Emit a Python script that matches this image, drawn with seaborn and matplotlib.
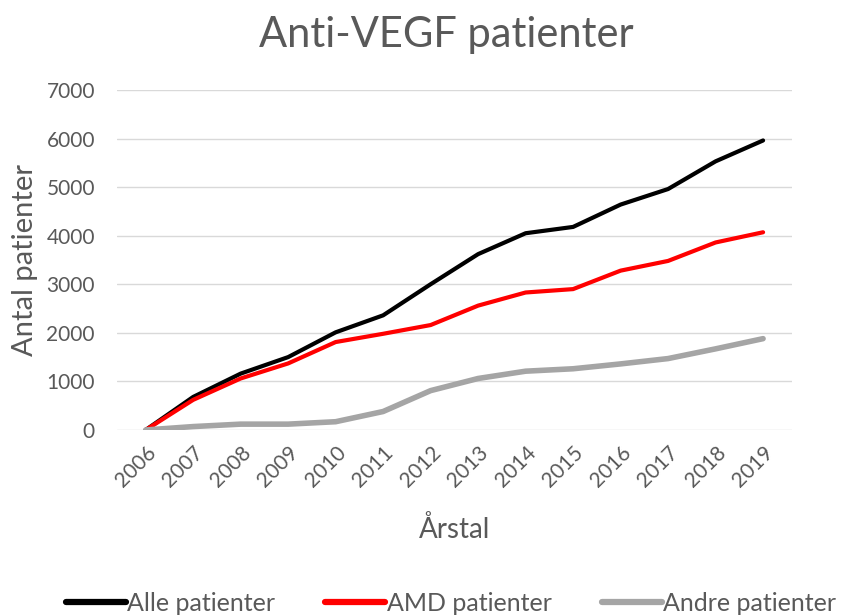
import pandas as pd
import matplotlib
matplotlib.use("Agg")
import matplotlib.pyplot as plt
import seaborn as sns

years = [str(y) for y in range(2006, 2020)]
alle = [0, 680, 1160, 1500, 2010, 2360, 3000, 3620, 4050, 4180, 4640, 4960, 5530, 5960]
amd = [0, 620, 1060, 1370, 1810, 1980, 2160, 2560, 2830, 2900, 3280, 3480, 3860, 4070]
andre = [0, 70, 120, 120, 170, 380, 810, 1060, 1210, 1260, 1360, 1470, 1670, 1880]
series_names = ["Alle patienter", "AMD patienter", "Andre patienter"]
colors = ["#000000", "#ff0000", "#a5a5a5"]

df = pd.DataFrame({"Årstal": years, series_names[0]: alle,
                   series_names[1]: amd, series_names[2]: andre})
long_df = df.melt(id_vars="Årstal", var_name="Serie", value_name="Antal")

sns.set_theme(style="white")
plt.rcParams["font.family"] = ["Lato", "DejaVu Sans"]

fig = plt.figure(figsize=(8.43, 6.16), dpi=100)
ax = fig.add_axes([0.139, 0.302, 0.80, 0.552])

sns.lineplot(data=long_df, x="Årstal", y="Antal", hue="Serie",
             palette=dict(zip(series_names, colors)), ax=ax, legend=False,
             sort=False)
for line, lw in zip(ax.lines, [3.0, 3.0, 4.0]):
    line.set_linewidth(lw)
    line.set_solid_capstyle("round")

ax.set_xlim(-0.6, 13.6)
ax.set_ylim(0, 7000)
ax.set_yticks(range(0, 7001, 1000))
ax.grid(axis="y", color="#d9d9d9", linewidth=1)
ax.set_axisbelow(True)
for s in ax.spines.values():
    s.set_visible(False)
ax.tick_params(axis="both", length=0, colors="#595959", labelsize=15)
ax.tick_params(axis="y", pad=16)
ax.tick_params(axis="x", pad=9)
plt.setp(ax.get_xticklabels(), rotation=45, ha="right", rotation_mode="anchor")

ax.set_xlabel("Årstal", fontsize=20, color="#595959", labelpad=18)
ax.set_ylabel("Antal patienter", fontsize=21, color="#595959", labelpad=6)
fig.text(0.53, 0.943, "Anti-VEGF patienter", ha="center", va="center",
         fontsize=30, color="#595959")

handles = [plt.Line2D([0], [0], color=c, lw=4.5, solid_capstyle="round")
           for c in colors]
fig.legend(handles, series_names, loc="center", bbox_to_anchor=(0.535, 0.021),
           ncol=3, frameon=False, fontsize=18, handlelength=2.4,
           handletextpad=0.05, columnspacing=2.0, labelcolor="#595959")

fig.savefig("out.png", dpi=100)
